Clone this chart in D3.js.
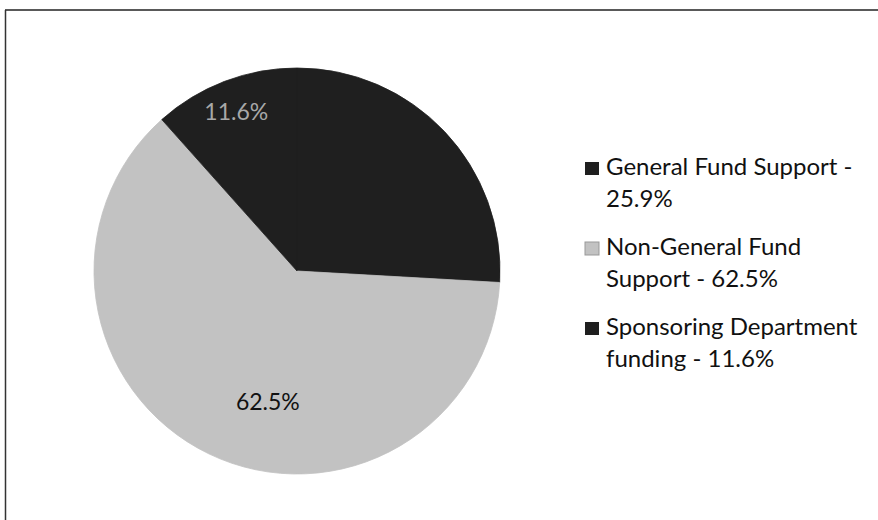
<!DOCTYPE html>
<html>
<head>
<meta charset="utf-8">
<script src="https://cdn.jsdelivr.net/npm/d3@7"></script>
<style>
  body { margin: 0; background: #fff; }
  svg { display: block; }
  text { font-family: Lato, "Open Sans", sans-serif; }
</style>
</head>
<body>
<svg id="chart" width="878" height="520"></svg>
<script>
// chart data
const categories = ['General Fund Support', 'Non-General Fund Support', 'Sponsoring Department funding'];
const shares = [25.9, 62.5, 11.6];
const legendLines = [
    ['General Fund Support -', '25.9%'],
    ['Non-General Fund', 'Support - 62.5%'],
    ['Sponsoring Department', 'funding - 11.6%']
];
const sliceColors = ['#1f1f1f', '#c2c2c2', '#1f1f1f'];
const labelColors = ['#1f1f1f', '#111111', '#a8a8a8'];

const svg = d3.select('#chart');
const width = +svg.attr('width');
const height = +svg.attr('height');

const cx = 297, cy = 271, radius = 203;

// scanned frame: top and left edges only
svg.append('line')
    .attr('x1', 5).attr('y1', 10).attr('x2', width).attr('y2', 10)
    .attr('stroke', '#222').attr('stroke-width', 1.5);
svg.append('line')
    .attr('x1', 5.5).attr('y1', 10).attr('x2', 5.5).attr('y2', height)
    .attr('stroke', '#333').attr('stroke-width', 1.5);

const pie = d3.pie().sort(null).value(d => d.value);
const arcs = pie(categories.map((c, i) => ({ name: c, value: shares[i], i })));

const arc = d3.arc().innerRadius(0).outerRadius(radius);

const g = svg.append('g').attr('transform', `translate(${cx},${cy})`);

g.selectAll('path')
    .data(arcs)
    .enter()
    .append('path')
    .attr('d', arc)
    .attr('fill', d => sliceColors[d.data.i])
    .attr('stroke', d => sliceColors[d.data.i])
    .attr('stroke-width', 0.8);

// data labels (Excel "best fit" style placement)
const labelRadius = [0.66, 0.66, 0.84];
const labelShift = [0, -0.23, 0]; // radians
g.selectAll('text.pct')
    .data(arcs)
    .enter()
    .append('text')
    .attr('class', 'pct')
    .attr('transform', d => {
        const a = (d.startAngle + d.endAngle) / 2 + labelShift[d.data.i];
        const r = radius * labelRadius[d.data.i];
        return `translate(${r * Math.sin(a)},${-r * Math.cos(a)})`;
    })
    .attr('text-anchor', 'middle')
    .attr('dy', '0.35em')
    .attr('font-size', 23)
    .attr('fill', d => labelColors[d.data.i])
    .text(d => d.data.value.toFixed(1) + '%');

// legend
const legend = svg.append('g').attr('transform', 'translate(585,175)');
const item = legend.selectAll('g')
    .data(categories)
    .enter()
    .append('g')
    .attr('transform', (d, i) => `translate(0,${i * 80})`);

item.append('rect')
    .attr('x', 0).attr('y', -13)
    .attr('width', 14).attr('height', 13)
    .attr('fill', (d, i) => sliceColors[i])
    .attr('stroke', (d, i) => i === 1 ? '#999' : 'none');

item.append('text')
    .attr('x', 21)
    .attr('font-size', 24)
    .attr('fill', '#111')
    .selectAll('tspan')
    .data((d, i) => legendLines[i])
    .enter()
    .append('tspan')
    .attr('x', 21)
    .attr('dy', (d, j) => j === 0 ? 0 : 32)
    .text(d => d);
</script>
</body>
</html>
